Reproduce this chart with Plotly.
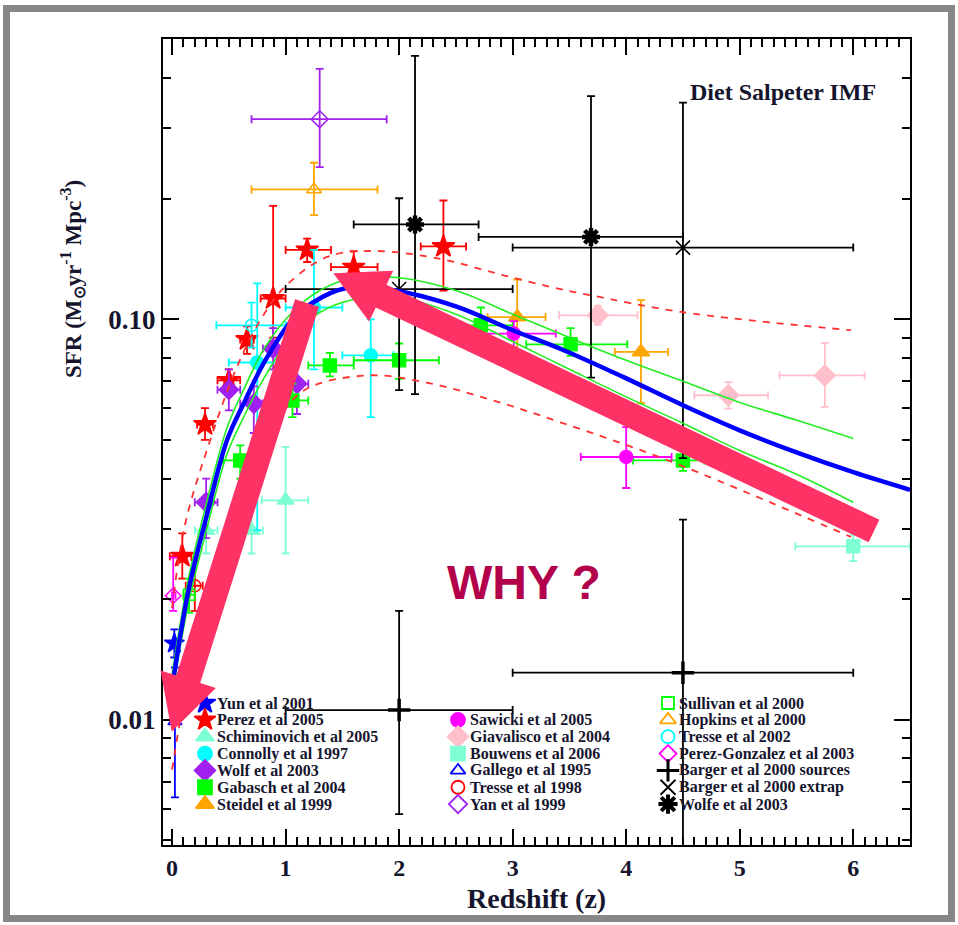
import math
import plotly.graph_objects as go

# ---------------- data (redshift z, SFR density in Msun/yr/Mpc^3) ----------------
# per series: centre values, then lower/upper bounds of the error bars

YUN_Z, YUN_SFR = [0.02], [0.0155]
YUN_ZLO, YUN_ZHI = [0.0], [0.04]
YUN_LO, YUN_HI = [0.0143], [0.0168]

PEREZ_Z = [0.09, 0.29, 0.50, 0.66, 0.89, 1.19, 1.60, 2.39]
PEREZ_SFR = [0.0256, 0.0546, 0.0704, 0.0890, 0.1127, 0.149, 0.135, 0.152]
PEREZ_ZLO = [-0.02, 0.22, 0.40, 0.60, 0.78, 1.00, 1.40, 2.19]
PEREZ_ZHI = [0.17, 0.36, 0.60, 0.72, 1.00, 1.40, 1.81, 2.59]
PEREZ_LO = [0.0225, 0.050, 0.066, 0.082, 0.090, 0.139, 0.123, 0.118]
PEREZ_HI = [0.0292, 0.060, 0.075, 0.096, 0.192, 0.159, 0.148, 0.198]

SCHIM_Z = [0.30, 0.70, 1.00]
SCHIM_SFR = [0.0297, 0.0297, 0.0353]
SCHIM_ZLO = [0.20, 0.60, 0.79]
SCHIM_ZHI = [0.40, 0.80, 1.20]
SCHIM_LO = [0.0260, 0.0260, 0.0260]
SCHIM_HI = [0.034, 0.045, 0.048]

CONN_Z = [0.75, 1.25, 1.75]
CONN_SFR = [0.078, 0.107, 0.0813]
CONN_ZLO = [0.50, 1.00, 1.50]
CONN_ZHI = [1.00, 1.50, 1.95]
CONN_LO = [0.0297, 0.075, 0.057]
CONN_HI = [0.123, 0.149, 0.100]

WOLF_Z = [0.30, 0.50, 0.72, 0.89, 1.10]
WOLF_SFR = [0.0349, 0.0667, 0.0616, 0.0845, 0.069]
WOLF_ZLO = [0.20, 0.40, 0.60, 0.80, 1.00]
WOLF_ZHI = [0.40, 0.60, 0.80, 1.00, 1.20]
WOLF_LO = [0.0284, 0.0592, 0.052, 0.075, 0.058]
WOLF_HI = [0.040, 0.075, 0.068, 0.095, 0.080]

GAB_Z = [0.60, 1.06, 1.39, 2.00, 2.72, 3.51, 4.50]
GAB_SFR = [0.0444, 0.0627, 0.0767, 0.0790, 0.0966, 0.0866, 0.0444]
GAB_ZLO = [0.45, 0.90, 1.20, 1.60, 2.45, 3.12, 4.06]
GAB_ZHI = [0.75, 1.20, 1.60, 2.35, 3.00, 4.01, 4.69]
GAB_LO = [0.040, 0.057, 0.072, 0.071, 0.088, 0.081, 0.0418]
GAB_HI = [0.0484, 0.069, 0.0824, 0.087, 0.107, 0.095, 0.047]

STEIDEL_Z = [3.04, 4.13]
STEIDEL_SFR = [0.1013, 0.0829]
STEIDEL_ZLO = [2.78, 3.90]
STEIDEL_ZHI = [3.29, 4.37]
STEIDEL_LO = [0.082, 0.0617]
STEIDEL_HI = [0.1257, 0.1116]

SAWICKI_Z = [3.01, 4.00]
SAWICKI_SFR = [0.0921, 0.0453]
SAWICKI_ZLO = [2.65, 3.60]
SAWICKI_ZHI = [3.38, 4.40]
SAWICKI_LO = [0.085, 0.0379]
SAWICKI_HI = [0.099, 0.0538]

GIAV_Z = [3.75, 4.90, 5.75]
GIAV_SFR = [0.1023, 0.0646, 0.0724]
GIAV_ZLO = [3.41, 4.60, 5.35]
GIAV_ZHI = [4.10, 5.25, 6.10]
GIAV_LO = [0.097, 0.0598, 0.0604]
GIAV_HI = [0.108, 0.0697, 0.0873]

BOUW_Z, BOUW_SFR = [6.00], [0.0271]
BOUW_ZLO, BOUW_ZHI = [5.49], [6.50]
BOUW_LO, BOUW_HI = [0.0249], [0.0290]

GALLEGO_Z, GALLEGO_SFR = [0.025], [0.0099]
GALLEGO_ZLO, GALLEGO_ZHI = [0.025], [0.025]
GALLEGO_LO, GALLEGO_HI = [0.0064], [0.0135]

TRESSE98_Z, TRESSE98_SFR = [0.20], [0.0216]
TRESSE98_ZLO, TRESSE98_ZHI = [0.12], [0.27]
TRESSE98_LO, TRESSE98_HI = [0.0187], [0.0250]

YAN_Z, YAN_SFR = [1.30], [0.316]
YAN_ZLO, YAN_ZHI = [0.70], [1.89]
YAN_LO, YAN_HI = [0.240], [0.422]

SULLIVAN_Z, SULLIVAN_SFR = [0.15], [0.0205]
SULLIVAN_ZLO, SULLIVAN_ZHI = [0.10], [0.20]
SULLIVAN_LO, SULLIVAN_HI = [0.0185], [0.0225]

HOPKINS_Z, HOPKINS_SFR = [1.25], [0.211]
HOPKINS_ZLO, HOPKINS_ZHI = [0.70], [1.81]
HOPKINS_LO, HOPKINS_HI = [0.182], [0.246]

TRESSE02_Z, TRESSE02_SFR = [0.70], [0.0966]
TRESSE02_ZLO, TRESSE02_ZHI = [0.39], [1.00]
TRESSE02_LO, TRESSE02_HI = [0.085], [0.110]

PGONZ_Z, PGONZ_SFR = [0.01], [0.0204]
PGONZ_ZLO, PGONZ_ZHI = [0.0], [0.03]
PGONZ_LO, PGONZ_HI = [0.0187], [0.0254]

BARGER_S_Z = [2.00, 4.50]
BARGER_S_SFR = [0.01057, 0.0131]
BARGER_S_ZLO = [1.00, 3.00]
BARGER_S_ZHI = [3.00, 6.00]
BARGER_S_LO = [0.00581, 0.0030]
BARGER_S_HI = [0.0187, 0.0316]

BARGER_X_Z = [2.00, 4.50]
BARGER_X_SFR = [0.119, 0.151]
BARGER_X_ZLO = [1.00, 3.00]
BARGER_X_ZHI = [3.00, 6.00]
BARGER_X_LO = [0.0665, 0.045]
BARGER_X_HI = [0.2006, 0.3475]

WOLFE_Z = [2.14, 3.69]
WOLFE_SFR = [0.1725, 0.1606]
WOLFE_ZLO = [1.60, 2.70]
WOLFE_ZHI = [2.70, 4.50]
WOLFE_LO = [0.065, 0.0715]
WOLFE_HI = [0.455, 0.361]

# fitted star-formation history and its confidence envelopes
FIT_Z = [0.0, 0.144, 0.306, 0.483, 0.644, 0.806, 1.056, 1.245, 1.527, 1.95,
         2.5, 3.0, 3.45, 4.0, 4.5, 5.0, 5.5, 6.0, 6.5]
FIT_SFR = [0.0120, 0.0210, 0.0324, 0.0498, 0.0627, 0.0776, 0.0994, 0.1103, 0.1195,
           0.1182, 0.1077, 0.0939, 0.0837, 0.0712, 0.0610, 0.0528, 0.0465, 0.0415, 0.0375]

GREEN_Z = [0.0, 0.144, 0.306, 0.483, 0.644, 0.806, 1.056, 1.3, 1.6, 2.0,
           2.5, 3.0, 3.5, 4.0, 4.5, 5.0, 5.5, 6.0]
GREEN_HI = [0.0130, 0.0225, 0.0350, 0.0535, 0.068, 0.084, 0.104, 0.118, 0.127, 0.127,
            0.118, 0.103, 0.090, 0.079, 0.070, 0.062, 0.056, 0.0504]
GREEN_LO = [0.0115, 0.0195, 0.030, 0.046, 0.058, 0.071, 0.091, 0.104, 0.112, 0.113,
            0.103, 0.088, 0.075, 0.064, 0.055, 0.047, 0.041, 0.0349]

DASH_HI_Z = [0.0, 0.115, 0.335, 0.571, 0.777, 0.98, 1.365, 1.774, 2.336, 2.92,
             3.42, 3.69, 4.48, 5.98]
DASH_HI = [0.019, 0.0308, 0.0498, 0.0760, 0.0994, 0.1195, 0.1431, 0.1481, 0.1420,
           0.1288, 0.1189, 0.1148, 0.1043, 0.0939]
DASH_LO_Z = [0.0, 0.1, 0.25, 0.45, 0.7, 0.9, 1.16, 1.72, 2.25, 2.83, 3.42, 4.37, 5.98]
DASH_LO = [0.0075, 0.011, 0.017, 0.027, 0.042, 0.054, 0.0664, 0.0724, 0.0694,
           0.0627, 0.0553, 0.0444, 0.0286]

X_TICKS = [0, 1, 2, 3, 4, 5, 6]
Y_TICKS = [0.01, 0.1]
Y_TICK_TEXT = ["0.01", "0.10"]

# ---------------- figure geometry ----------------
W, H = 958, 925
ML, MR, MT, MB = 163, 48, 39, 80
PW, PH = W - ML - MR, H - MT - MB

TEXT = "#15152e"
SERIF = "Liberation Serif"


def paper(x, y):
    return (x - ML) / PW, (H - MB - y) / PH


fig = go.Figure()


def add_points(name, z, s, zlo, zhi, slo, shi, symbol, color, size, lw=1.5):
    fig.add_trace(go.Scatter(
        x=z, y=s, mode="markers", name=name, showlegend=False,
        marker=dict(symbol=symbol, color=color, size=size,
                    line=dict(color=color, width=lw)),
        error_x=dict(type="data", symmetric=False,
                     array=[b - a for a, b in zip(z, zhi)],
                     arrayminus=[a - b for a, b in zip(z, zlo)],
                     color=color, thickness=1.8, width=4),
        error_y=dict(type="data", symmetric=False,
                     array=[b - a for a, b in zip(s, shi)],
                     arrayminus=[a - b for a, b in zip(s, slo)],
                     color=color, thickness=1.8, width=4),
    ))


AQUA, PURPLE, ORANGE = "#7fffd4", "#a020f0", "#ffa500"

SERIES = [
    ("Yun et al 2001", YUN_Z, YUN_SFR, YUN_ZLO, YUN_ZHI, YUN_LO, YUN_HI, "star", "#0000ff", 15),
    ("Perez et al 2005", PEREZ_Z, PEREZ_SFR, PEREZ_ZLO, PEREZ_ZHI, PEREZ_LO, PEREZ_HI, "star", "#ff0000", 17),
    ("Schiminovich et al 2005", SCHIM_Z, SCHIM_SFR, SCHIM_ZLO, SCHIM_ZHI, SCHIM_LO, SCHIM_HI, "triangle-up", AQUA, 15),
    ("Connolly et al 1997", CONN_Z, CONN_SFR, CONN_ZLO, CONN_ZHI, CONN_LO, CONN_HI, "circle", "#00ffff", 13),
    ("Wolf et al 2003", WOLF_Z, WOLF_SFR, WOLF_ZLO, WOLF_ZHI, WOLF_LO, WOLF_HI, "diamond", PURPLE, 15),
    ("Gabasch et al 2004", GAB_Z, GAB_SFR, GAB_ZLO, GAB_ZHI, GAB_LO, GAB_HI, "square", "#00ff00", 13),
    ("Steidel et al 1999", STEIDEL_Z, STEIDEL_SFR, STEIDEL_ZLO, STEIDEL_ZHI, STEIDEL_LO, STEIDEL_HI, "triangle-up", ORANGE, 15),
    ("Sawicki et al 2005", SAWICKI_Z, SAWICKI_SFR, SAWICKI_ZLO, SAWICKI_ZHI, SAWICKI_LO, SAWICKI_HI, "circle", "#ff00ff", 13),
    ("Giavalisco et al 2004", GIAV_Z, GIAV_SFR, GIAV_ZLO, GIAV_ZHI, GIAV_LO, GIAV_HI, "diamond", "#ffc0cb", 16),
    ("Bouwens et al 2006", BOUW_Z, BOUW_SFR, BOUW_ZLO, BOUW_ZHI, BOUW_LO, BOUW_HI, "square", AQUA, 13),
    ("Gallego et al 1995", GALLEGO_Z, GALLEGO_SFR, GALLEGO_ZLO, GALLEGO_ZHI, GALLEGO_LO, GALLEGO_HI, "triangle-up-open", "#0000ff", 12),
    ("Tresse et al 1998", TRESSE98_Z, TRESSE98_SFR, TRESSE98_ZLO, TRESSE98_ZHI, TRESSE98_LO, TRESSE98_HI, "circle-open", "#ff0000", 12),
    ("Yan et al 1999", YAN_Z, YAN_SFR, YAN_ZLO, YAN_ZHI, YAN_LO, YAN_HI, "diamond-open", PURPLE, 13),
    ("Sullivan et al 2000", SULLIVAN_Z, SULLIVAN_SFR, SULLIVAN_ZLO, SULLIVAN_ZHI, SULLIVAN_LO, SULLIVAN_HI, "square-open", "#00ff00", 11),
    ("Hopkins et al 2000", HOPKINS_Z, HOPKINS_SFR, HOPKINS_ZLO, HOPKINS_ZHI, HOPKINS_LO, HOPKINS_HI, "triangle-up-open", ORANGE, 13),
    ("Tresse et al 2002", TRESSE02_Z, TRESSE02_SFR, TRESSE02_ZLO, TRESSE02_ZHI, TRESSE02_LO, TRESSE02_HI, "circle-open", "#00ffff", 12),
    ("Perez-Gonzalez et al 2003", PGONZ_Z, PGONZ_SFR, PGONZ_ZLO, PGONZ_ZHI, PGONZ_LO, PGONZ_HI, "diamond-open", "#ff00ff", 12),
    ("Barger et al 2000 sources", BARGER_S_Z, BARGER_S_SFR, BARGER_S_ZLO, BARGER_S_ZHI, BARGER_S_LO, BARGER_S_HI, "cross-thin-open", "#000000", 16),
    ("Barger et al 2000 extrap", BARGER_X_Z, BARGER_X_SFR, BARGER_X_ZLO, BARGER_X_ZHI, BARGER_X_LO, BARGER_X_HI, "x-thin-open", "#000000", 14),
    ("Wolfe et al 2003", WOLFE_Z, WOLFE_SFR, WOLFE_ZLO, WOLFE_ZHI, WOLFE_LO, WOLFE_HI, "asterisk-open", "#000000", 15),
]

for name, z, s, zlo, zhi, slo, shi, sym, col, size in SERIES:
    lw = {"cross-thin-open": 3.5, "asterisk-open": 4.5}.get(sym, 1.5)
    add_points(name, z, s, zlo, zhi, slo, shi, sym, col, size, lw)

# model curves on top of the points
for zz, ss in ((GREEN_Z, GREEN_HI), (GREEN_Z, GREEN_LO)):
    fig.add_trace(go.Scatter(x=zz, y=ss, mode="lines", showlegend=False,
                             line=dict(color="#22ee22", width=1.6, shape="spline")))
for zz, ss in ((DASH_HI_Z, DASH_HI), (DASH_LO_Z, DASH_LO)):
    fig.add_trace(go.Scatter(x=zz, y=ss, mode="lines", showlegend=False,
                             line=dict(color="#ff3030", width=1.8, dash="7px,7px", shape="spline")))
fig.add_trace(go.Scatter(x=FIT_Z, y=FIT_SFR, mode="lines", showlegend=False,
                         line=dict(color="#0000ff", width=4.5, shape="spline")))

# ---------------- legend keys (drawn on a pixel-space overlay axis) ----------------
LEG_ROW0, LEG_STEP = 703.0, 16.85
LEG_COLS = [(205, 215, 0), (458, 468, 1), (668, 677, 0)]
LEG_GROUPS = [SERIES[0:7], SERIES[7:13], SERIES[13:20]]

annotations = []
for (mx, tx, r0), group in zip(LEG_COLS, LEG_GROUPS):
    for i, entry in enumerate(group):
        name, sym, col, size = entry[0], entry[7], entry[8], entry[9]
        yy = LEG_ROW0 + (r0 + i) * LEG_STEP
        lw = {"cross-thin-open": 3, "asterisk-open": 4}.get(sym, 1.8)
        fig.add_trace(go.Scatter(
            x=[mx], y=[yy], xaxis="x2", yaxis="y2", mode="markers", showlegend=False,
            marker=dict(symbol=sym, color=col, size=min(size, 15) + 1,
                        line=dict(color=col, width=lw)),
            hoverinfo="skip"))
        px_, py_ = paper(tx, yy)
        annotations.append(dict(x=px_, y=py_, xref="paper", yref="paper", text=name,
                                showarrow=False, xanchor="left", yanchor="middle",
                                font=dict(family=SERIF, size=16, color=TEXT, weight="bold")))

# ---------------- free text ----------------
ax_, ay_ = paper(688, 92)
annotations.append(dict(x=ax_, y=ay_, xref="paper", yref="paper", text="Diet Salpeter IMF",
                        showarrow=False, xanchor="left", yanchor="middle",
                        font=dict(family=SERIF, size=24, color=TEXT, weight="bold")))
ax_, ay_ = paper(524, 582)
annotations.append(dict(x=ax_, y=ay_, xref="paper", yref="paper", text="WHY ?",
                        showarrow=False, xanchor="center", yanchor="middle",
                        font=dict(family="Liberation Sans", size=48, color="#b3004a", weight="bold")))
ax_, ay_ = paper(536, 898)
annotations.append(dict(x=ax_, y=ay_, xref="paper", yref="paper", text="Redshift (z)",
                        showarrow=False, xanchor="center", yanchor="middle",
                        font=dict(family=SERIF, size=28, color=TEXT, weight="bold")))
ax_, ay_ = paper(72, 279)
annotations.append(dict(x=ax_, y=ay_, xref="paper", yref="paper",
                        text="SFR (M<sub>\u2299</sub>yr<sup>-1</sup> Mpc<sup>-3</sup>)",
                        showarrow=False, xanchor="center", yanchor="middle", textangle=-90,
                        font=dict(family=SERIF, size=23, color=TEXT, weight="bold")))

# ---------------- arrows and frame ----------------
ARROW_COLOR = "#fe3264"


def arrow_path(tail, tip, shaft_w, head_w, head_len):
    dx, dy = tip[0] - tail[0], tip[1] - tail[1]
    d = math.hypot(dx, dy)
    ux, uy = dx / d, dy / d
    nx, ny = -uy, ux
    bx, by = tip[0] - ux * head_len, tip[1] - uy * head_len
    pts = [
        (tail[0] + nx * shaft_w / 2, tail[1] + ny * shaft_w / 2),
        (bx + nx * shaft_w / 2, by + ny * shaft_w / 2),
        (bx + nx * head_w / 2, by + ny * head_w / 2),
        tip,
        (bx - nx * head_w / 2, by - ny * head_w / 2),
        (bx - nx * shaft_w / 2, by - ny * shaft_w / 2),
        (tail[0] - nx * shaft_w / 2, tail[1] - ny * shaft_w / 2),
    ]
    pp = [paper(x, y) for x, y in pts]
    return "M " + " L ".join(f"{x:.5f},{y:.5f}" for x, y in pp) + " Z"


shapes = [
    dict(type="path", xref="paper", yref="paper", layer="above",
         path=arrow_path((307, 303), (171.7, 731.7), 25, 58, 55),
         fillcolor=ARROW_COLOR, line=dict(width=0)),
    dict(type="path", xref="paper", yref="paper", layer="above",
         path=arrow_path((874, 531), (333.3, 273.3), 25, 56, 53),
         fillcolor=ARROW_COLOR, line=dict(width=0)),
]
fx0, fy0 = paper(6.5, 8.5)
fx1, fy1 = paper(951.5, 918.5)
shapes.append(dict(type="rect", xref="paper", yref="paper", x0=fx0, y0=fy1, x1=fx1, y1=fy0,
                   line=dict(color="#878787", width=7), layer="above"))

# ---------------- axes ----------------
x_minor = [round(0.1 * k, 1) for k in range(0, 66) if k % 10]
y_minor = [m * 10 ** e for e in (-3, -2, -1) for m in range(2, 10)
           if 0.0048 < m * 10 ** e < 0.5]

axis_common = dict(showline=True, linecolor="black", linewidth=2, mirror="ticks",
                   ticks="inside", ticklen=16, tickwidth=2, tickcolor="black",
                   showgrid=False, zeroline=False)

fig.update_layout(
    width=W, height=H, margin=dict(l=ML, r=MR, t=MT, b=MB),
    paper_bgcolor="white", plot_bgcolor="white", showlegend=False,
    xaxis=dict(range=[-0.08, 6.5], tickmode="array", tickvals=X_TICKS,
               tickfont=dict(family=SERIF, size=24, color=TEXT, weight="bold"),
               minor=dict(tickmode="array", tickvals=x_minor, ticks="inside",
                          ticklen=8, tickwidth=1.5, tickcolor="black"),
               **axis_common),
    yaxis=dict(type="log", range=[-2.313, -0.3], tickmode="array", tickvals=Y_TICKS,
               ticktext=Y_TICK_TEXT,
               tickfont=dict(family=SERIF, size=27, color=TEXT, weight="bold"),
               minor=dict(tickmode="array", tickvals=y_minor, ticks="inside",
                          ticklen=8, tickwidth=1.5, tickcolor="black"),
               **axis_common),
    xaxis2=dict(overlaying="x", range=[ML, W - MR], visible=False, fixedrange=True),
    yaxis2=dict(overlaying="y", range=[H - MB, MT], visible=False, fixedrange=True),
    annotations=annotations, shapes=shapes,
)

fig.write_html("out.html")
